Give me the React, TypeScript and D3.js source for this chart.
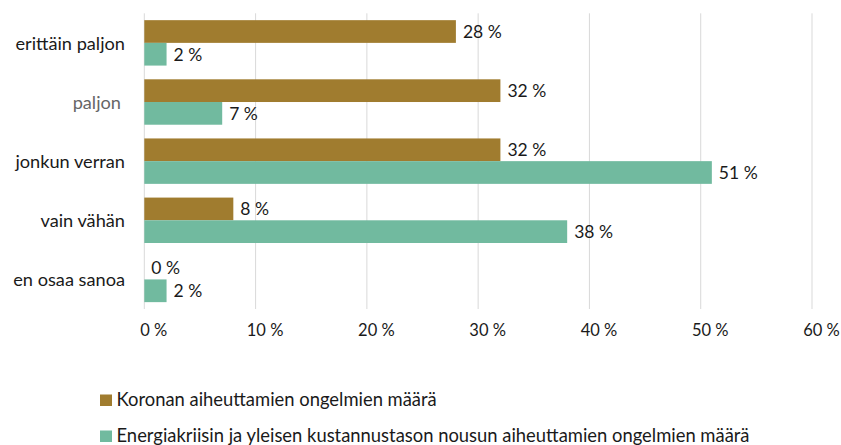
import React from "react";
import * as d3 from "d3";

const categories = ["erittäin paljon", "paljon", "jonkun verran", "vain vähän", "en osaa sanoa"];
const seriesNames = [
  "Koronan aiheuttamien ongelmien määrä",
  "Energiakriisin ja yleisen kustannustason nousun aiheuttamien ongelmien määrä",
];
const koronaValues = [28, 32, 32, 8, 0];
const energiaValues = [2, 7, 51, 38, 2];
const xTicks = [0, 10, 20, 30, 40, 50, 60];
const colors = ["#A07C2F", "#71BA9F"];

const W = 841;
const H = 445;
const FONT = "Lato, 'Open Sans', sans-serif";

export default function App() {
  const x = d3.scaleLinear().domain([0, 60]).range([144.3, 812]);
  const y = d3.scaleBand<string>().domain(categories).range([13.3, 309]).paddingInner(0.232).paddingOuter(0.116);
  const bw = y.bandwidth() / 2;
  const series = [koronaValues, energiaValues];

  return (
    <svg width={W} height={H} style={{ position: "absolute", left: 0, top: 0, background: "#fff" }} fontFamily={FONT}>
      {xTicks.map((t) => (
        <line key={t} x1={x(t)} x2={x(t)} y1={13.3} y2={309} stroke="#d9d9d9" strokeWidth={1} />
      ))}
      {xTicks.map((t) => (
        <text key={"t" + t} x={x(t) + 9.5} y={335.5} textAnchor="middle" fontSize={16.5} fill="#1a1a1a">
          {t} %
        </text>
      ))}
      {categories.map((c, i) => {
        const cy = (y(c) as number) + y.bandwidth() / 2;
        return (
          <text
            key={c}
            x={i === 1 ? 121 : 125}
            y={cy + 6.8}
            textAnchor="end"
            fontSize={18.2}
            fill={i === 1 ? "#666" : "#1a1a1a"}
          >
            {c}
          </text>
        );
      })}
      {series.map((vals, s) =>
        categories.map((c, i) => {
          const y0 = (y(c) as number) + s * bw;
          return (
            <g key={s + "-" + c}>
              <rect x={x(0)} y={y0} width={x(vals[i]) - x(0)} height={bw} fill={colors[s]} />
              <text x={x(vals[i]) + 7} y={y0 + bw / 2 + 6.3} fontSize={17.5} fill="#1a1a1a">
                {vals[i]} %
              </text>
            </g>
          );
        })
      )}
      {seriesNames.map((n, i) => (
        <g key={n} transform={`translate(0, ${i * 36})`}>
          <rect x={100} y={394.5} width={12} height={11.5} fill={colors[i]} />
          <text x={116.5} y={405.8} fontSize={18.4} fill="#1a1a1a">
            {n}
          </text>
        </g>
      ))}
    </svg>
  );
}
